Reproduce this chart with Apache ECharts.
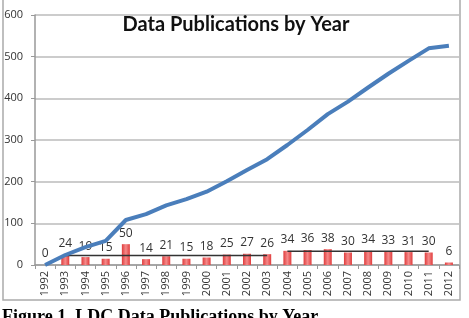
<!DOCTYPE html>
<html>
<head>
<meta charset="utf-8">
<script src="https://cdn.jsdelivr.net/npm/echarts@6/dist/echarts.min.js"></script>
<style>
  html, body { margin: 0; padding: 0; background: #fff; }
  #chart { width: 469px; height: 318px; }
</style>
</head>
<body>
<div id="chart"></div>
<script>
  const years = ["1992", "1993", "1994", "1995", "1996", "1997", "1998", "1999", "2000", "2001", "2002",
    "2003", "2004", "2005", "2006", "2007", "2008", "2009", "2010", "2011", "2012"]
  const perYear = [0, 24, 19, 15, 50, 14, 21, 15, 18, 25, 27, 26, 34, 36, 38, 30, 34, 33, 31, 30, 6]
  const cumulative = [0, 24, 43, 58, 108, 122, 143, 158, 176, 201, 228, 254, 288, 324, 362, 392, 426, 459, 490, 520, 526]
  // average bars for two periods, drawn as flat lines
  const avgEarly = [null, 23.1, 23.1, 23.1, 23.1, 23.1, 23.1, 23.1, 23.1, 23.1, 23.1, 23.1,
    null, null, null, null, null, null, null, null, null]
  const avgLate = [null, null, null, null, null, null, null, null, null, null, null, null,
    33.3, 33.3, 33.3, 33.3, 33.3, 33.3, 33.3, 33.3, null]
  const yTicks = [0, 100, 200, 300, 400, 500, 600]

  const chart = echarts.init(document.getElementById("chart"))
  const option = {
    animation: false,
    backgroundColor: "#fff",
    textStyle: { fontFamily: "Open Sans" },
    title: {
      text: "Data Publications by Year",
      left: 231,
      top: 10,
      textAlign: "center",
      textStyle: { fontFamily: "Lato", fontWeight: "bold", fontSize: 20, color: "#111" },
    },
    grid: { left: 35, right: 10, top: 15, bottom: 53 },
    xAxis: {
      type: "category",
      data: years,
      axisLine: { lineStyle: { color: "#999", width: 1.5 } },
      axisTick: { show: true, lineStyle: { color: "#999" }, length: 4 },
      axisLabel: { rotate: 90, color: "#333", fontSize: 11, margin: 6 },
    },
    yAxis: {
      type: "value",
      min: yTicks[0],
      max: yTicks[yTicks.length - 1],
      interval: 100,
      axisLine: { show: true, lineStyle: { color: "#999", width: 1.5 } },
      axisTick: { show: true, length: 4, lineStyle: { color: "#999" } },
      axisLabel: { color: "#333", fontSize: 11, margin: 12 },
      splitLine: { lineStyle: { color: "#bbb", width: 1.5 } },
    },
    series: [
      {
        type: "bar",
        data: perYear,
        barWidth: 8,
        itemStyle: {
          color: new echarts.graphic.LinearGradient(0, 0, 1, 0, [
            { offset: 0, color: "#e03c3c" },
            { offset: 0.5, color: "#f48a8a" },
            { offset: 1, color: "#e03c3c" },
          ]),
        },
        label: { show: true, position: "top", distance: 5, color: "#333", fontSize: 12 },
        z: 2,
      },
      {
        type: "line",
        data: avgEarly,
        symbol: "none",
        lineStyle: { color: "#333", width: 1.5 },
        z: 3,
      },
      {
        type: "line",
        data: avgLate,
        symbol: "none",
        lineStyle: { color: "#333", width: 1.5 },
        z: 3,
      },
      {
        type: "line",
        data: cumulative,
        symbol: "none",
        lineStyle: { color: "#4a7ebb", width: 4 },
        z: 4,
      },
    ],
    graphic: [
      {
        type: "rect",
        shape: { x: 3, y: -5, width: 457, height: 305 },
        style: { fill: "none", stroke: "#aaa", lineWidth: 1.5 },
        z: 0,
      },
      {
        type: "text",
        left: 2,
        top: 308,
        style: {
          text: "Figure 1. LDC Data Publications by Year",
          font: "bold 18px 'Liberation Serif'",
          fill: "#000",
        },
      },
    ],
  }
  chart.setOption(option)
</script>
</body>
</html>
